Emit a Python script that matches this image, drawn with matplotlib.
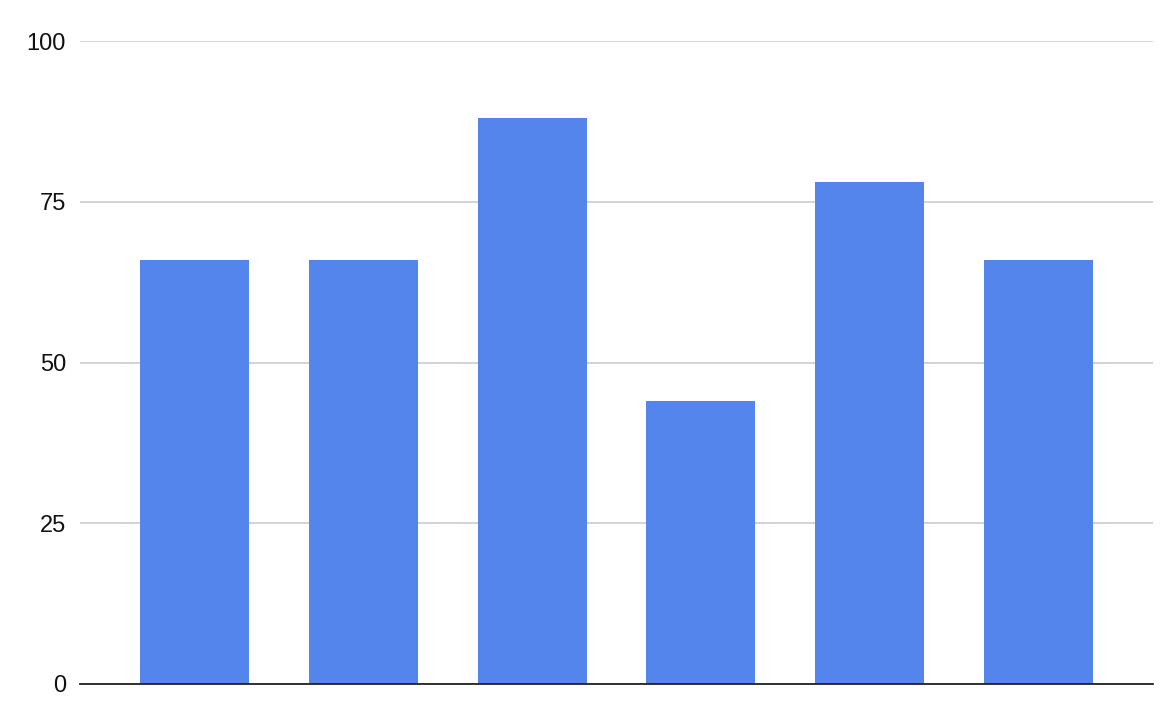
import matplotlib
matplotlib.use("Agg")
import matplotlib.pyplot as plt

plt.rcParams["font.family"] = ["Liberation Sans", "DejaVu Sans"]

categories = ["A", "B", "C", "D", "E", "F"]
values = [66, 66, 88, 44, 78, 66]
yticks = [0, 25, 50, 75, 100]
BAR = "#5385EC"

fig = plt.figure(figsize=(11.72, 7.22), dpi=100)
ax = fig.add_axes([80 / 1172, (722 - 684) / 722, (1153 - 80) / 1172, (684 - 41) / 722])

x = list(range(len(categories)))
ax.bar(x, values, width=0.645, color=BAR, zorder=3)

ax.set_xlim(-0.677, len(categories) - 1 + 0.677)
ax.set_ylim(0, 100)
ax.set_yticks(yticks)
ax.set_xticks([])
ax.grid(axis="y", color="#cccccc", lw=1.2, zorder=0)
for s in ["top", "right", "left"]:
    ax.spines[s].set_visible(False)
ax.spines["bottom"].set_color("#222222")
ax.spines["bottom"].set_linewidth(1.3)
ax.spines["bottom"].set_zorder(4)
ax.tick_params(axis="y", length=0, pad=10, labelsize=17, labelcolor="#111111")

fig.savefig("out.png", dpi=100)
